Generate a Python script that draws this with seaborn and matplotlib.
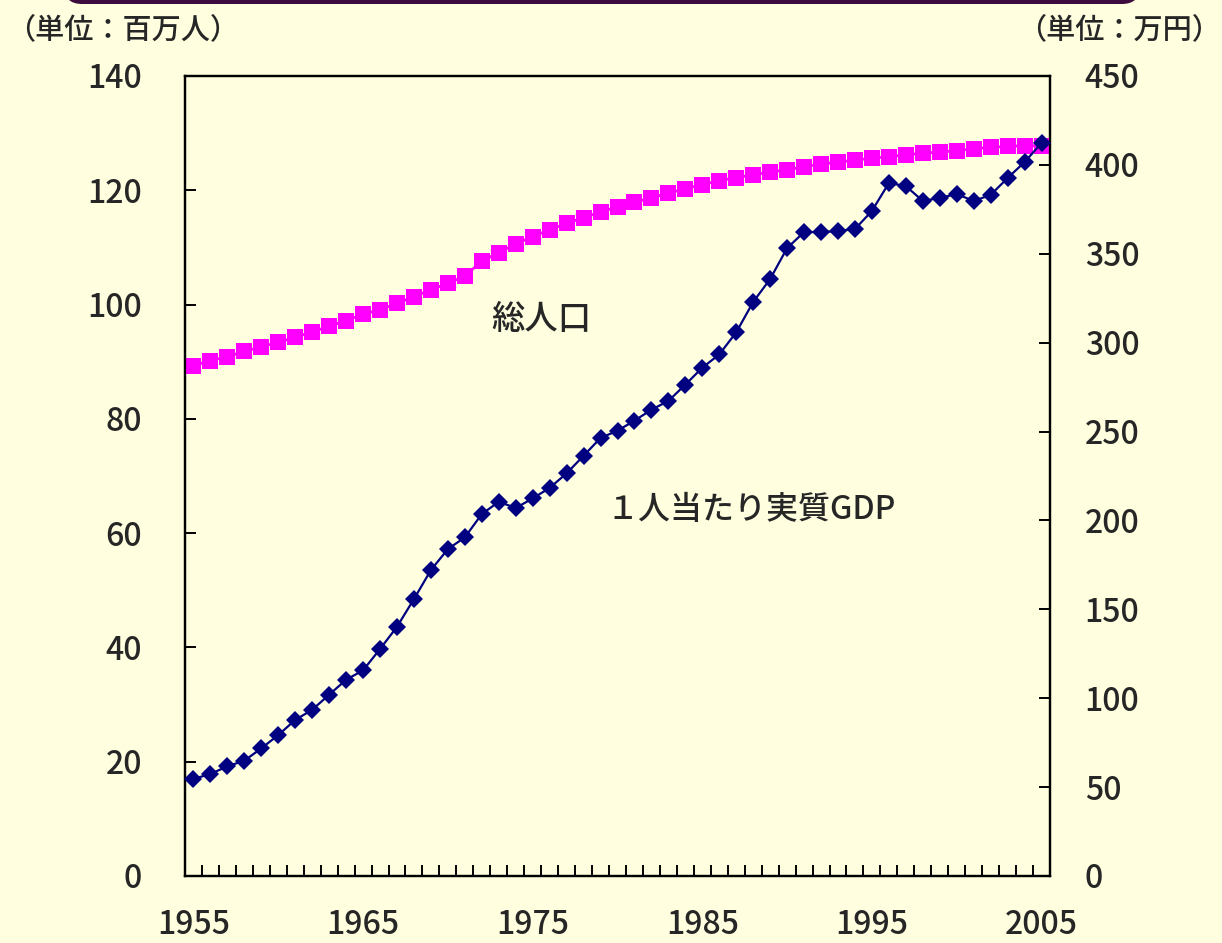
import numpy as np
import pandas as pd
import matplotlib
matplotlib.use("Agg")
import matplotlib.pyplot as plt
from matplotlib.patches import FancyBboxPatch
from matplotlib.transforms import IdentityTransform
from matplotlib.ticker import FixedLocator, NullFormatter
import seaborn as sns

# ---------------- data ----------------
years = list(range(1955, 2006))
population = [89.3, 90.2, 90.9, 91.8, 92.6, 93.4, 94.3, 95.2, 96.2, 97.2,
              98.3, 99.1, 100.2, 101.4, 102.6, 103.7, 105.0, 107.6, 109.1, 110.6,
              111.9, 113.1, 114.2, 115.2, 116.2, 117.1, 117.9, 118.7, 119.5, 120.3,
              121.0, 121.7, 122.2, 122.7, 123.2, 123.6, 124.1, 124.6, 124.9, 125.3,
              125.6, 125.9, 126.2, 126.5, 126.7, 126.9, 127.3, 127.5, 127.7, 127.8,
              127.8]
gdp_per_capita = [54.6, 57.4, 61.7, 64.9, 71.8, 79.3, 87.8, 93.5, 102.0, 110.4,
                  115.7, 127.7, 140.2, 155.8, 172.1, 183.9, 190.5, 203.6, 210.5, 207.0,
                  212.4, 218.3, 226.5, 236.4, 246.4, 250.5, 256.1, 262.3, 267.2, 276.4,
                  285.9, 293.4, 305.8, 322.9, 335.8, 353.2, 362.2, 362.2, 362.8, 363.9,
                  374.1, 389.8, 388.1, 379.7, 381.4, 383.6, 379.7, 383.1, 392.6, 401.6,
                  412.3]
xtick_years = [1955, 1965, 1975, 1985, 1995, 2005]
left_ticks = [0, 20, 40, 60, 80, 100, 120, 140]
right_ticks = [0, 50, 100, 150, 200, 250, 300, 350, 400, 450]
left_unit = "（単位：百万人）"
right_unit = "（単位：万円）"
label_pop = "総人口"
label_gdp = "１人当たり実質GDP"

df = pd.DataFrame({"year": years, "pop": population, "gdp": gdp_per_capita})

# ---------------- style ----------------
sns.set_style("white")
plt.rcParams["font.family"] = ["Noto Sans CJK JP", "DejaVu Sans"]
plt.rcParams["font.weight"] = "medium"
bg = "#FFFFE0"

fig = plt.figure(figsize=(12.22, 9.43), dpi=100, facecolor=bg)
ax = fig.add_axes([185 / 1222, 1 - 876 / 943, (1050 - 185) / 1222, (876 - 76) / 943])
ax.set_facecolor(bg)
ax2 = ax.twinx()

sns.lineplot(data=df, x="year", y="pop", ax=ax, color="#FF00FF", linewidth=2,
             marker="s", markersize=11.5, markeredgecolor="#FF00FF",
             markeredgewidth=0, zorder=3)
sns.lineplot(data=df, x="year", y="gdp", ax=ax2, color="#000080", linewidth=1.6,
             marker="D", markersize=9.6, markeredgecolor="#000080",
             markeredgewidth=0, zorder=4, clip_on=False)

ax.set_xlim(1954.5, 2005.5)
ax.set_ylim(0, 140)
ax2.set_ylim(0, 450)

for a in (ax, ax2):
    a.set_xlabel("")
    a.set_ylabel("")
    for s in a.spines.values():
        s.set_visible(True)
        s.set_color("black")
        s.set_linewidth(1.6)

ax.set_xticks(xtick_years)
ax.set_xticklabels([str(y) for y in xtick_years])
ax.xaxis.set_minor_locator(FixedLocator([y + 0.5 for y in years[:-1]]))
ax.xaxis.set_minor_formatter(NullFormatter())
ax.tick_params(axis="x", which="major", length=0, pad=24, labelsize=23)
ax.tick_params(axis="x", which="minor", direction="in", length=8, width=1.4,
               color="black", bottom=True)

ax.set_yticks(left_ticks)
ax.tick_params(axis="y", which="major", direction="in", length=8, width=1.4,
               color="black", pad=31, labelsize=23, left=True)
ax2.set_yticks(right_ticks)
ax2.tick_params(axis="y", which="major", direction="in", length=8, width=1.4,
                color="black", pad=25, labelsize=23, right=True)
ax.grid(False)
ax2.grid(False)

ax.set_zorder(1)
ax2.set_zorder(2)
ax2.patch.set_visible(False)

# annotations
ax.text(1975.5, 97.4, label_pop, fontsize=24, ha="center", va="center")
ax2.text(1987.9, 206, label_gdp, fontsize=23, ha="center", va="center")

# unit labels
fig.text(6 / 1222, 1 - 30 / 943, left_unit, fontsize=21, ha="left", va="center")
fig.text(1221 / 1222, 1 - 30 / 943, right_unit, fontsize=21, ha="right", va="center")

# top decorative band
band = FancyBboxPatch((64, 943 - 4), 1076, 40, boxstyle="round,pad=0,rounding_size=18",
                      transform=IdentityTransform(), facecolor="#3D0B3D",
                      edgecolor="none", zorder=0)
fig.patches.append(band)

fig.savefig("out.png", dpi=100, facecolor=bg)
